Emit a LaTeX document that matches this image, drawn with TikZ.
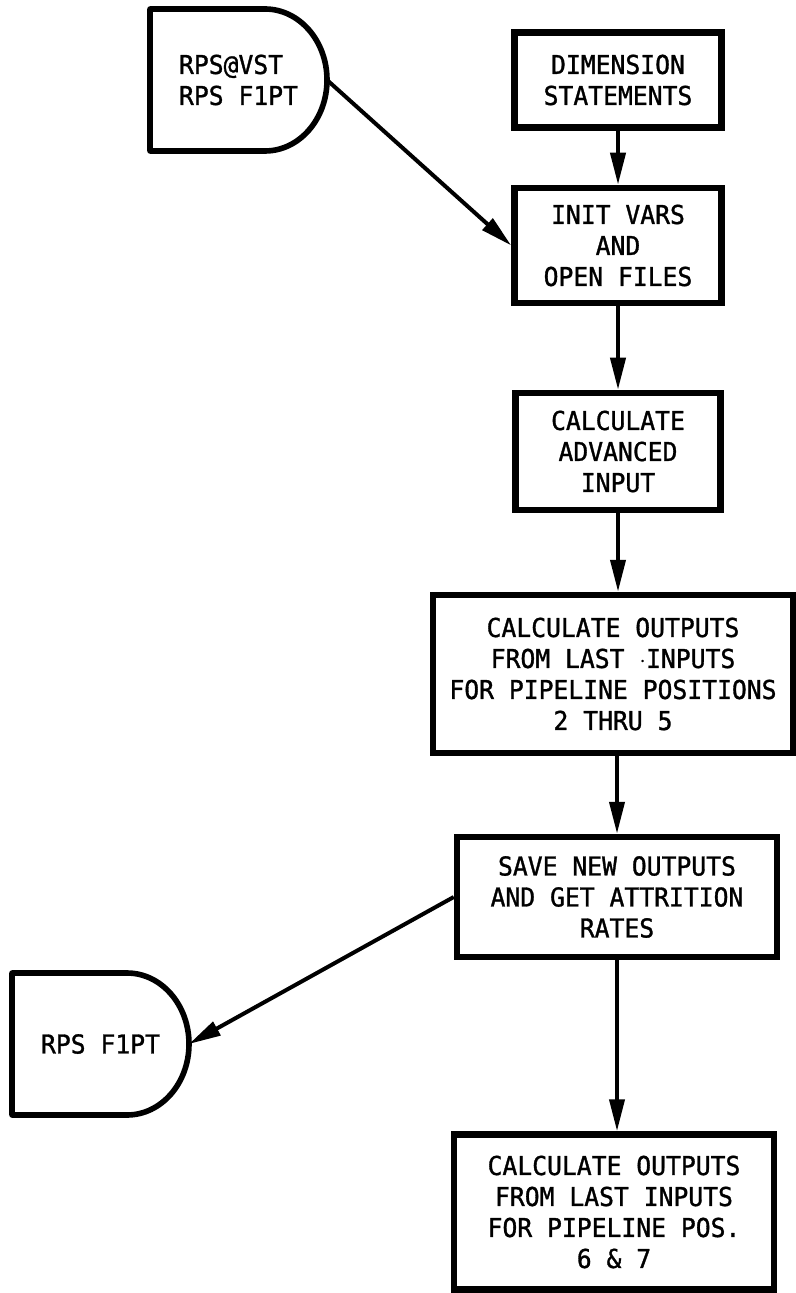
\documentclass[tikz,border=0pt]{standalone}
\usepackage{fontspec}
\newfontfamily\chartface{DejaVu Sans Mono}[FakeStretch=0.95, FakeBold=1.2]
\usepackage{tikz}
\usetikzlibrary{
    shapes, arrows.meta, positioning, calc
}
\newcommand{\chartfont}{\chartface\fontsize{13}{15.5}\selectfont}
\newcommand{\DrawStore}[5]{
    \begin{scope}[shift={(#2,#3)}]
        \draw[line width=2.8pt, line join=round] (0,0) -- (115,0) arc[start angle=-90, end angle=90, x radius=62, y radius=71] -- (0,142) -- cycle;
        \node[minimum width=88.5pt, minimum height=71pt, inner sep=0pt, outer sep=0pt, align=#4, font=\chartfont] (#1) at (88.5,71) {#5};
    \end{scope}
}

\begin{document}
\begin{tikzpicture}[x=0.5pt, y=-0.5pt,
    procbox/.style={draw, line width=3.25pt, inner sep=0pt, align=center, font=\chartfont},
    flow/.style={-{Triangle[length=16pt, width=7.5pt]}, line width=2pt}]
        \useasboundingbox (0,0) rectangle (796,1293);

        % The input stores
        \DrawStore{rpsin}{150}{9}{left}{RPS@VST\\RPS F1PT}
        \DrawStore{rpsout}{12}{973}{center}{RPS F1PT}

        % The main chain
        \node[procbox, minimum width=103.5pt, minimum height=47.5pt] (dim) at (618, 80) {DIMENSION\\STATEMENTS};
        \node[procbox, minimum width=103.5pt, minimum height=57.5pt] (init) at (618, 245.5) {INIT VARS\\AND\\OPEN FILES};
        \node[procbox, minimum width=102.5pt, minimum height=58.5pt] (adv) at (618, 451.5) {CALCULATE\\ADVANCED\\INPUT};
        \node[procbox, minimum width=180pt, minimum height=79pt] (big) at (613, 674) {CALCULATE OUTPUTS\\FROM LAST $\cdot$INPUTS\\FOR PIPELINE POSITIONS\\2 THRU 5};
        \node[procbox, minimum width=160pt, minimum height=60pt] (save) at (617, 897) {SAVE NEW OUTPUTS\\AND GET ATTRITION\\RATES};
        \node[procbox, minimum width=160pt, minimum height=77.5pt] (fin) at (614, 1212) {CALCULATE OUTPUTS\\FROM LAST INPUTS\\FOR PIPELINE POS.\\6 \& 7};

        % Connectors
        \draw[flow] (dim) -- (init);
        \draw[flow] (init) -- (adv);
        \draw[flow] (adv.south) -- (adv.south |- big.north);
        \draw[flow] (save.north |- big.south) -- (save.north);
        \draw[flow] (save.south) -- (save.south |- fin.north);
        \draw[flow] (rpsin.east) -- (init.west);
        \draw[flow] (save.west) -- (rpsout.east);
    \end{tikzpicture}
\end{document}
